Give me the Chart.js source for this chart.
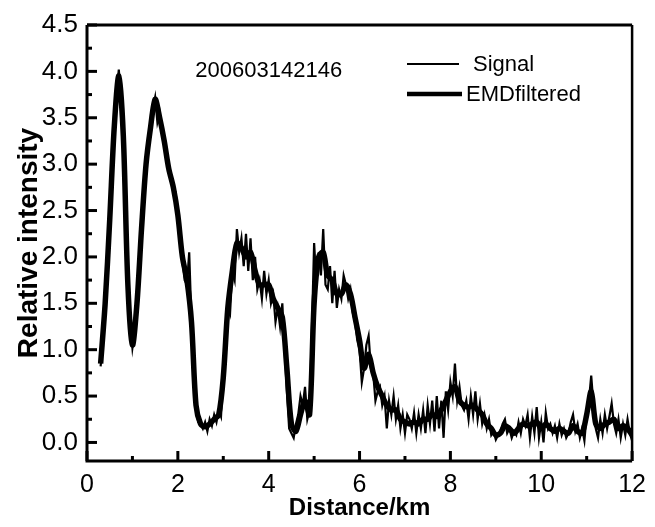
<!DOCTYPE html>
<html>
<head>
<meta charset="utf-8">
<title>Relative intensity vs distance</title>
<script src="https://cdn.jsdelivr.net/npm/chart.js@4.4.1/dist/chart.umd.min.js"></script>
<style>
  body { margin: 0; background: #fff; }
</style>
</head>
<body>
<canvas id="myChart" width="655" height="527"></canvas>
<script>
// Data (distance in km, relative intensity)
const runId = '200603142146';

// raw signal, sampled every 0.05 km starting at 0.3 km
const signalStart = 0.3;
const signalStep = 0.05;
const signalData = [
  0.82, 1.1, 1.45, 1.95, 2.4, 2.9, 3.4, 3.75, 4.02, 3.7,
  3.35, 2.6, 1.75, 1.3, 1.02, 1.2, 1.55, 1.9, 2.3, 2.7,
  3.0, 3.3, 3.35, 3.6, 3.72, 3.45, 3.55, 3.35, 3.25, 3.1,
  2.95, 2.85, 2.75, 2.7, 2.45, 2.2, 1.95, 1.75, 1.7, 2.05,
  1.3, 0.65, 0.35, 0.22, 0.2, 0.15, 0.22, 0.12, 0.25, 0.18,
  0.3, 0.22, 0.35, 0.28, 0.7, 1.1, 1.5, 1.4, 1.85, 1.75,
  2.3, 2.05, 2.2, 1.9, 2.25, 1.85, 2.2, 1.75, 2.0, 1.65,
  1.75, 1.55, 1.85, 1.6, 1.75, 1.5, 1.6, 1.3, 1.45, 1.25,
  1.5, 1.0, 0.55, 0.15, 0.1, 0.05, 0.2, 0.3, 0.5, 0.4,
  0.6, 0.25, 0.35, 1.2, 2.15, 1.7, 2.05, 1.8, 2.3, 1.7,
  1.65, 1.9, 1.5, 1.85, 1.45, 1.65, 1.55, 1.8, 1.7, 1.55,
  1.65, 1.4, 1.3, 1.1, 1.0, 0.65, 0.8, 1.05, 1.15, 0.8,
  0.75, 0.45, 0.55, 0.6, 0.4, 0.5, 0.15, 0.45, 0.3, 0.5,
  0.25, 0.4, 0.15, 0.3, 0.1, 0.3, 0.25, 0.15, 0.32, 0.1,
  0.3, 0.15, 0.35, 0.1, 0.4, 0.2, 0.45, 0.12, 0.5, 0.15,
  0.45, 0.05, 0.55, 0.35, 0.65, 0.5, 0.85, 0.45, 0.6, 0.4,
  0.35, 0.45, 0.25, 0.5, 0.3, 0.55, 0.25, 0.42, 0.2, 0.3,
  0.15, 0.25, 0.08, 0.12, 0.03, 0.08, 0.12, 0.2, 0.25, 0.1,
  0.15, 0.05, 0.12, 0.08, 0.22, 0.1, 0.25, 0.18, 0.3, 0.05,
  0.28, 0.1, 0.38, 0.05, 0.22, 0.0, 0.32, 0.15, 0.2, 0.1,
  0.18, 0.05, 0.2, 0.08, 0.15, 0.05, 0.1, 0.22, 0.3, 0.12,
  0.2, 0.05, 0.15, 0.02, 0.3, 0.45, 0.72, 0.4, 0.15, 0.05,
  0.25, 0.1, 0.3, 0.15, 0.28, 0.42, 0.2, 0.1, 0.25, 0.05,
  0.2, 0.08, 0.25, 0.1, 0.02
];

// EMD filtered curve, sampled every 0.1 km starting at 0.3 km
const filteredStart = 0.3;
const filteredStep = 0.1;
const filteredData = [
  0.85, 1.5, 2.4, 3.4, 3.95, 3.3, 1.7, 1.05, 1.5, 2.3,
  3.0, 3.4, 3.7, 3.5, 3.25, 2.95, 2.75, 2.45, 2.0, 1.75,
  1.3, 0.4, 0.2, 0.17, 0.2, 0.25, 0.3, 0.7, 1.45, 1.85,
  2.15, 2.1, 2.0, 2.05, 1.85, 1.7, 1.7, 1.7, 1.55, 1.45,
  1.35, 0.8, 0.2, 0.12, 0.3, 0.45, 0.3, 1.5, 2.0, 2.05,
  1.8, 1.75, 1.6, 1.6, 1.7, 1.6, 1.35, 1.1, 0.8, 0.95,
  0.75, 0.6, 0.5, 0.4, 0.35, 0.35, 0.25, 0.22, 0.2, 0.22,
  0.2, 0.25, 0.25, 0.3, 0.28, 0.35, 0.45, 0.55, 0.6, 0.45,
  0.4, 0.38, 0.4, 0.35, 0.3, 0.2, 0.15, 0.08, 0.1, 0.18,
  0.15, 0.1, 0.15, 0.2, 0.18, 0.2, 0.22, 0.15, 0.2, 0.15,
  0.12, 0.15, 0.12, 0.1, 0.18, 0.12, 0.1, 0.3, 0.55, 0.2,
  0.15, 0.2, 0.22, 0.25, 0.15, 0.18, 0.15, 0.08
];

// axis ticks
const xTicks = [0, 2, 4, 6, 8, 10, 12];
const yTicks = [0, 0.5, 1, 1.5, 2, 2.5, 3, 3.5, 4, 4.5];

function toPoints(start, step, values) {
  return values.map((v, i) => ({ x: +(start + i * step).toFixed(2), y: v }));
}

const FONT = "'Liberation Sans', Arial, sans-serif";

// frame and inward ticks, like the original plot
const frameTicks = {
  id: 'frameTicks',
  afterDraw(chart) {
    const { ctx, chartArea: a, scales } = chart;
    ctx.save();
    ctx.strokeStyle = '#000';
    ctx.lineCap = 'butt';

    // x ticks (major every 2 km, minor every 1 km)
    for (let v = 0; v <= 12; v += 1) {
      const px = scales.x.getPixelForValue(v);
      const len = v % 2 === 0 ? 10 : 5;
      ctx.lineWidth = 3;
      ctx.beginPath();
      ctx.moveTo(px, a.bottom);
      ctx.lineTo(px, a.bottom - len);
      ctx.stroke();
    }
    // y ticks (major every 0.5, minor every 0.25)
    for (let i = 0; i <= 18; i++) {
      const v = i * 0.25;
      const py = scales.y.getPixelForValue(v);
      const len = i % 2 === 0 ? 10 : 5;
      ctx.lineWidth = 3;
      ctx.beginPath();
      ctx.moveTo(a.left, py);
      ctx.lineTo(a.left + len, py);
      ctx.stroke();
    }

    // frame
    ctx.lineWidth = 3;
    ctx.beginPath();
    ctx.moveTo(a.left, a.top);
    ctx.lineTo(a.left, a.bottom);
    ctx.lineTo(a.right, a.bottom);
    ctx.stroke();
    ctx.beginPath();
    ctx.moveTo(a.left, a.top);
    ctx.lineTo(a.right, a.top);
    ctx.stroke();
    ctx.lineWidth = 2.5;
    ctx.beginPath();
    ctx.moveTo(a.right, a.top);
    ctx.lineTo(a.right, a.bottom);
    ctx.stroke();
    ctx.restore();
  }
};

// run id text and legend inside the plot
const innerLabels = {
  id: 'innerLabels',
  afterDraw(chart) {
    const { ctx, scales } = chart;
    ctx.save();
    ctx.fillStyle = '#000';
    ctx.textBaseline = 'middle';

    ctx.font = '22px ' + FONT;
    ctx.textAlign = 'center';
    ctx.fillText(runId, scales.x.getPixelForValue(4.0), scales.y.getPixelForValue(4.0));

    ctx.textAlign = 'left';
    const rows = [
      { y: 64, lineEnd: 459, textX: 473 },
      { y: 94, lineEnd: 462, textX: 466 }
    ];
    chart.data.datasets.forEach((ds, i) => {
      const r = rows[i];
      ctx.strokeStyle = ds.borderColor;
      ctx.lineWidth = i === 0 ? 2 : 4.5;
      ctx.beginPath();
      ctx.moveTo(407, r.y);
      ctx.lineTo(r.lineEnd, r.y);
      ctx.stroke();
      ctx.fillText(ds.label, r.textX, r.y + 1);
    });
    ctx.restore();
  }
};

const config = {
  type: 'line',
  data: {
    datasets: [
      {
        label: 'Signal',
        data: toPoints(signalStart, signalStep, signalData),
        borderColor: '#000',
        borderWidth: 2.2,
        pointRadius: 0,
        tension: 0
      },
      {
        label: 'EMDfiltered',
        data: toPoints(filteredStart, filteredStep, filteredData),
        borderColor: '#000',
        borderWidth: 5.5,
        pointRadius: 0,
        tension: 0.3
      }
    ]
  },
  options: {
    responsive: false,
    animation: false,
    layout: {
      padding: { left: 12, right: 19, top: 25, bottom: 0 }
    },
    plugins: {
      legend: { display: false },
      tooltip: { enabled: false }
    },
    scales: {
      x: {
        type: 'linear',
        min: 0,
        max: 12,
        afterBuildTicks: (axis) => { axis.ticks = xTicks.map(v => ({ value: v })); },
        afterFit: (axis) => { axis.height = 66; },
        grid: { display: false, drawTicks: false },
        border: { display: false },
        ticks: {
          color: '#000',
          font: { family: FONT, size: 25 },
          padding: 9,
          maxRotation: 0
        },
        title: {
          display: true,
          text: 'Distance/km',
          color: '#000',
          font: { family: FONT, size: 24, weight: 'bold' },
          padding: { top: 0, bottom: 4 }
        }
      },
      y: {
        min: -0.2,
        max: 4.5,
        afterBuildTicks: (axis) => { axis.ticks = yTicks.map(v => ({ value: v })); },
        afterFit: (axis) => { axis.width = 75; },
        grid: { display: false, drawTicks: false },
        border: { display: false },
        ticks: {
          color: '#000',
          font: { family: FONT, size: 26 },
          padding: 9,
          callback: (v) => v.toFixed(1)
        },
        title: {
          display: true,
          text: 'Relative intensity',
          color: '#000',
          font: { family: FONT, size: 28, weight: 'bold' },
          padding: { top: 0, bottom: 0 }
        }
      }
    }
  },
  plugins: [frameTicks, innerLabels]
};

const ctx = document.getElementById('myChart').getContext('2d');
const myChart = new Chart(ctx, config);
</script>
</body>
</html>
